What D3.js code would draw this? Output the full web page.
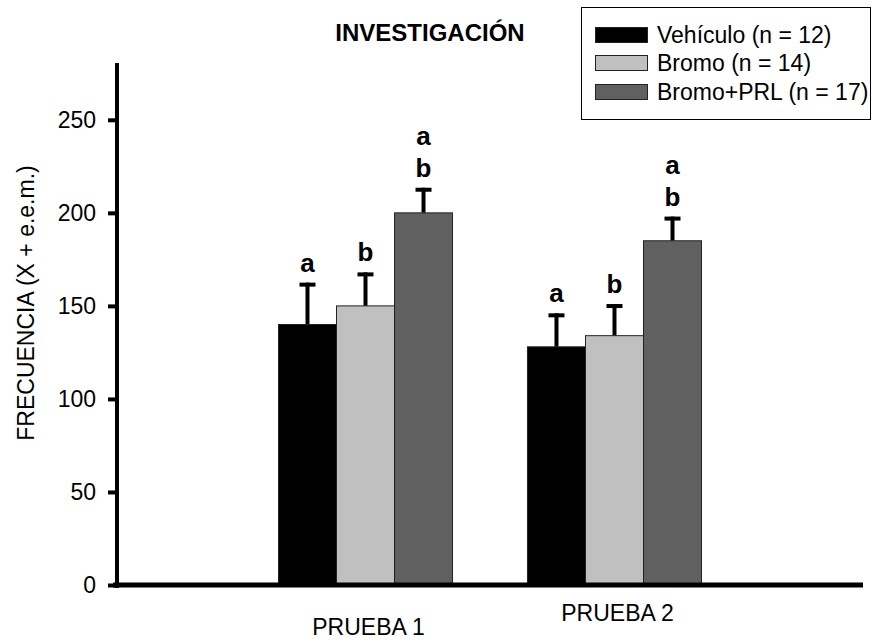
<!DOCTYPE html>
<html>
<head>
<meta charset="utf-8">
<script src="https://cdn.jsdelivr.net/npm/d3@7"></script>
<style>
  html, body { margin: 0; padding: 0; background: #fff; }
  svg { display: block; font-family: Arial, "Liberation Sans", sans-serif; }
</style>
</head>
<body>
<svg id="chart" width="872" height="644"></svg>
<script>
// ---- data ----
const groups = ["PRUEBA 1", "PRUEBA 2"];
const series = ["Vehículo (n = 12)", "Bromo (n = 14)", "Bromo+PRL (n = 17)"];
const means = [
  [140, 150, 200],   // PRUEBA 1
  [128, 134, 185]    // PRUEBA 2
];
const errTops = [
  [162.5, 168, 213.5],
  [146, 151, 198]
];
const sigLetters = [
  [["a"], ["b"], ["a", "b"]],
  [["a"], ["b"], ["a", "b"]]
];
const yTicks = [0, 50, 100, 150, 200, 250];
const colors = ["#000000", "#c0c0c0", "#606060"];

// ---- layout ----
const svg = d3.select("#chart");
const x0 = 117, x1 = 863, yBase = 585, yTop = 64;
const FS = 23;

const y = d3.scaleLinear().domain([0, 280]).range([yBase, yTop]);
const xGroup = d3.scaleBand().domain(groups).range([x0, x1])
  .paddingInner(0.301).paddingOuter(0.6486);
const xSeries = d3.scaleBand().domain(series).range([0, xGroup.bandwidth()]).padding(0);
const color = d3.scaleOrdinal().domain(series).range(colors);

// bars
const data = [];
groups.forEach((g, gi) => series.forEach((s, si) => {
  data.push({ g, s, v: means[gi][si], e: errTops[gi][si], letters: sigLetters[gi][si] });
}));

const gBars = svg.append("g");
const cxOf = d => xGroup(d.g) + xSeries(d.s) + xSeries.bandwidth() / 2;
// error bars (behind)
const eb = gBars.selectAll("g.err").data(data).join("g").attr("class", "err");
eb.append("line")
  .attr("x1", cxOf).attr("x2", cxOf)
  .attr("y1", d => y(d.v))
  .attr("y2", d => y(d.e))
  .attr("stroke", "#000").attr("stroke-width", 4);
eb.append("line")
  .attr("x1", d => cxOf(d) - 8)
  .attr("x2", d => cxOf(d) + 8)
  .attr("y1", d => y(d.e) + 2)
  .attr("y2", d => y(d.e) + 2)
  .attr("stroke", "#000").attr("stroke-width", 4);

gBars.selectAll("rect.bar").data(data).join("rect")
  .attr("class", "bar")
  .attr("x", d => xGroup(d.g) + xSeries(d.s))
  .attr("y", d => y(d.v))
  .attr("width", xSeries.bandwidth())
  .attr("height", d => yBase - y(d.v))
  .attr("fill", d => color(d.s))
  .attr("stroke", "#222").attr("stroke-width", 1);

// significance letters
data.forEach(d => {
  const cx = cxOf(d);
  const n = d.letters.length;
  d.letters.forEach((l, i) => {
    svg.append("text")
      .attr("x", cx)
      .attr("y", y(d.e) - 11 - (n - 1 - i) * 32)
      .attr("text-anchor", "middle")
      .attr("font-size", 26).attr("font-weight", "bold")
      .attr("fill", "#000")
      .text(l);
  });
});

// y axis
const yAxis = d3.axisLeft(y).tickValues(yTicks).tickSize(9).tickPadding(12);
const gy = svg.append("g").attr("transform", `translate(${x0},0)`).call(yAxis);
gy.select(".domain").remove();
gy.selectAll(".tick line").attr("stroke", "#000").attr("stroke-width", 4);
gy.selectAll(".tick text").attr("font-size", FS).attr("fill", "#000")
  .attr("font-family", "Arial, 'Liberation Sans', sans-serif");
svg.append("line").attr("x1", x0).attr("x2", x0).attr("y1", y(280) - 1).attr("y2", yBase + 3)
  .attr("stroke", "#000").attr("stroke-width", 4);
// x axis
svg.append("line").attr("x1", x0 - 4).attr("x2", x1).attr("y1", yBase).attr("y2", yBase)
  .attr("stroke", "#000").attr("stroke-width", 5);

// x labels
const xLabelY = [635, 621];
groups.forEach((g, gi) => {
  svg.append("text")
    .attr("x", xGroup(g) + xGroup.bandwidth() / 2 + 3)
    .attr("y", xLabelY[gi])
    .attr("text-anchor", "middle")
    .attr("font-size", FS).attr("fill", "#000")
    .text(g);
});

// y label
svg.append("text")
  .attr("transform", `translate(34,303) rotate(-90)`)
  .attr("text-anchor", "middle")
  .attr("font-size", FS).attr("fill", "#000")
  .text("FRECUENCIA (X + e.e.m.)");

// title
svg.append("text")
  .attr("x", 430).attr("y", 41)
  .attr("text-anchor", "middle")
  .attr("font-size", 24).attr("font-weight", "bold").attr("fill", "#000")
  .text("INVESTIGACIÓN");

// legend
const lg = svg.append("g");
lg.append("rect").attr("x", 581.5).attr("y", 7.5).attr("width", 289).attr("height", 112)
  .attr("fill", "#fff").attr("stroke", "#000").attr("stroke-width", 1);
const rowY = [35, 63, 92];
series.forEach((s, i) => {
  lg.append("rect").attr("x", 595.5).attr("y", rowY[i] - 7.5).attr("width", 52).attr("height", 15)
    .attr("fill", color(s)).attr("stroke", "#222").attr("stroke-width", 1);
  lg.append("text").attr("x", 657).attr("y", rowY[i] + 8)
    .attr("font-size", FS).attr("fill", "#000").text(s);
});
</script>
</body>
</html>
